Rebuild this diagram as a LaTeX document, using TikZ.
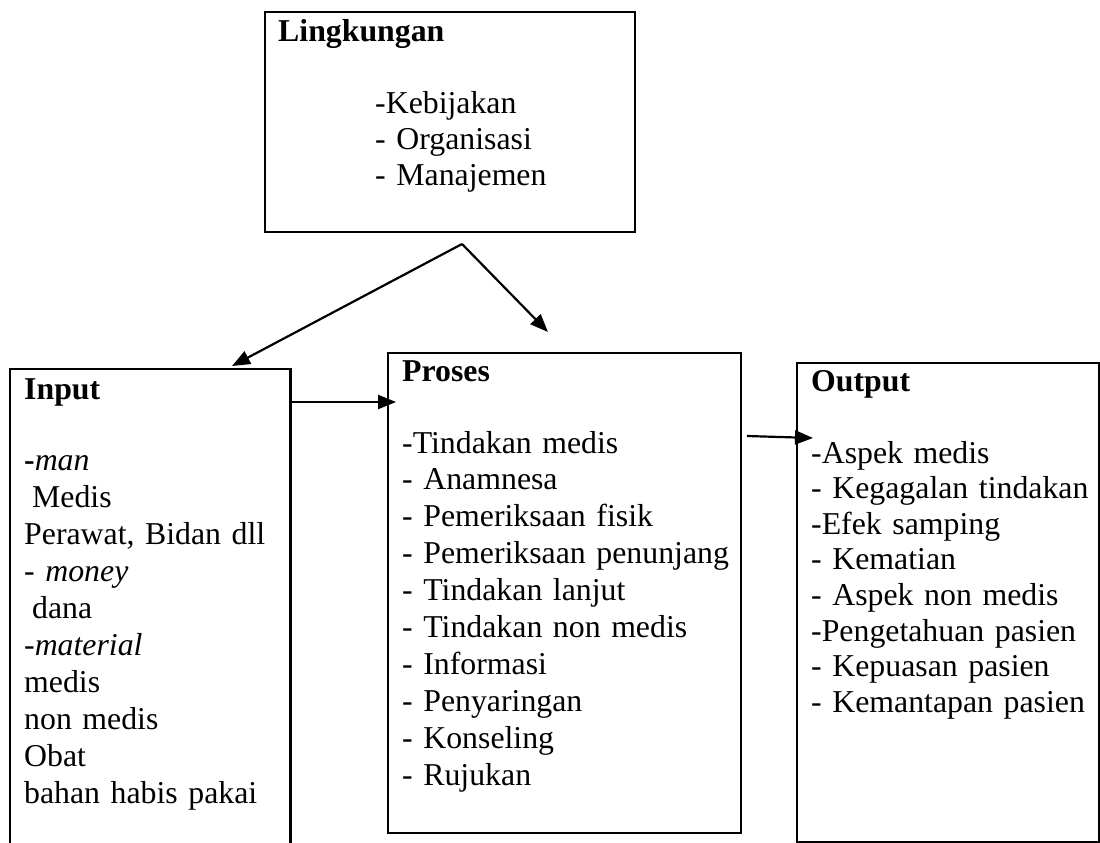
\documentclass[tikz,border=0pt]{standalone}
\usepackage{fontspec}
\setmainfont{Liberation Serif}
\usetikzlibrary{arrows.meta}
\begin{document}
\begin{tikzpicture}[x=1pt,y=-1pt,
  box/.style={draw,line width=2.4pt,inner sep=0pt,anchor=north west},
  openbox/.style={inner sep=0pt,anchor=north west},
  title/.style={font=\fontsize{31.8}{36.9}\selectfont\bfseries,anchor=base west,inner sep=0pt},
  txt/.style={font=\fontsize{31.8}{36.9}\selectfont,anchor=base west,inner sep=0pt,text width=330pt,align=left},
  arr/.style={line width=2.2pt,-{Triangle[length=18pt,width=14pt]}}]
\useasboundingbox (0,0) rectangle (1100,843);
% boxes
\node[box,minimum width=370pt,minimum height=220pt] (ling) at (264,11) {};
\node[openbox,minimum width=280pt,minimum height=476pt] (input) at (10,369) {};
\draw[line width=2.4pt] (input.south west) -- (input.north west) -- (input.north east) -- (input.south east);
\node[box,minimum width=353pt,minimum height=480pt] (proses) at (387,352) {};
\node[box,minimum width=302pt,minimum height=479pt] (output) at (796,362) {};
% texts
\node[title] (lingT) at (278,42) {Lingkungan};
\node[txt,font=\fontsize{31.8}{36}\selectfont] (lingL) at (375,113) {-Kebijakan\\- Organisasi\\- Manajemen};
\node[title] (inT) at (24,399) {Input};
\node[txt,font=\fontsize{31.8}{37}\selectfont] (inL) at (24,470) {{\bfseries -}\textit{man}\\\hspace*{.25em}Medis\\Perawat, Bidan dll\\- \textit{money}\\\hspace*{.25em}dana\\-\textit{material}\\medis\\non medis\\Obat\\bahan habis pakai};
\node[title] (prT) at (402,381) {Proses};
\node[txt] (prL) at (402,453) {-Tindakan medis\\- Anamnesa\\- Pemeriksaan fisik\\- Pemeriksaan penunjang\\- Tindakan lanjut\\- Tindakan non medis\\- Informasi\\- Penyaringan\\- Konseling\\- Rujukan};
\node[title] (outT) at (811,391) {Output};
\node[txt,font=\fontsize{31.8}{35.6}\selectfont] (outL) at (811,463) {-Aspek medis\\- Kegagalan tindakan\\-Efek samping\\- Kematian\\- Aspek non medis\\-Pengetahuan pasien\\- Kepuasan pasien\\- Kemantapan pasien};
% connectors
\coordinate (apex) at (462,244);
\coordinate (inTip) at (232,366);
\coordinate (prTip) at (548,332);
\coordinate (ipS) at (290,402);
\coordinate (ipE) at (396,402);
\coordinate (poS) at (747,436);
\coordinate (poE) at (813,438);
\draw[arr] (apex) -- (inTip);
\draw[arr] (apex) -- (prTip);
\draw[arr] (ipS) -- (ipE);
\draw[arr] (poS) -- (poE);
\end{tikzpicture}
\end{document}
